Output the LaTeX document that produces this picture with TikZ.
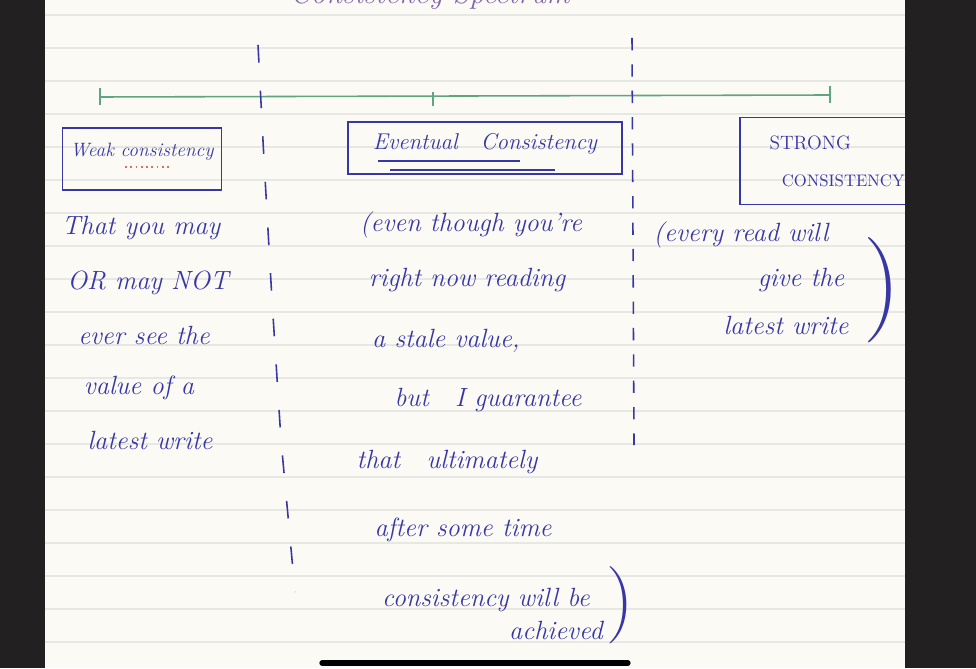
\documentclass[tikz,border=0pt]{standalone}
\usepackage{tikz}
\usetikzlibrary{positioning, calc}

\definecolor{ink}{RGB}{55,55,165}
\definecolor{paper}{RGB}{251,250,245}
\definecolor{ruling}{RGB}{231,231,228}
\definecolor{axisgreen}{RGB}{95,165,125}
\definecolor{frame}{RGB}{34,32,32}
\definecolor{titleink}{RGB}{130,100,170}
\definecolor{redink}{RGB}{225,110,90}

\begin{document}
\begin{tikzpicture}[x=0.2mm, y=-0.2mm,
  note/.style={text=ink, font=\fontsize{15}{18}\selectfont\itshape, inner sep=0pt},
  heading/.style={draw=ink, line width=0.9pt, text=ink, align=center, inner sep=0pt},
  paren/.style={text=ink, font=\fontsize{44}{44}\selectfont, inner sep=0pt},
  divider/.style={ink, line width=0.9pt}
]
  % Screen and page
  \fill[frame] (0,0) rectangle (976,668);
  \useasboundingbox (0,0) rectangle (976,668);
  \fill[paper] (45,0) rectangle (905,668);
  \foreach \y in {15,48,...,642}
    \draw[ruling, line width=0.6pt] (45,\y) -- (905,\y);

  % Title (cut off at the top)
  \node[text=titleink, font=\fontsize{17}{20}\selectfont\itshape, anchor=base] (title) at (430,4) {Consistency Spectrum};

  % Spectrum axis
  \coordinate (axL) at (100,97);
  \coordinate (axM) at (433,97);
  \coordinate (axR) at (830,95);
  \draw[axisgreen, line width=0.9pt] (axL) -- (axR);
  \draw[axisgreen, line width=0.9pt] ($(axL)+(0,-9)$) -- ($(axL)+(0,8)$);
  \draw[axisgreen, line width=0.9pt] ($(axM)+(0,-5)$) -- ($(axM)+(0,9)$);
  \draw[axisgreen, line width=0.9pt] ($(axR)+(0,-9)$) -- ($(axR)+(0,8)$);

  % Dividers
  \coordinate (d1a) at (258,45);
  \coordinate (d1b) at (264,160);
  \coordinate (d1c) at (272,300);
  \coordinate (d1d) at (281,440);
  \coordinate (d1e) at (295,592);
  \draw[divider, dash pattern=on 10pt off 16pt] (d1a) -- (d1b) -- (d1c) -- (d1d) -- (d1e);
  \coordinate (d2a) at (632,38);
  \coordinate (d2b) at (634,445);
  \draw[divider, dash pattern=on 7pt off 8pt] (d2a) -- (d2b);

  % Headings
  \node[heading, minimum width=3.18cm, minimum height=1.24cm, font=\fontsize{11}{13}\selectfont\itshape] (weak) at (142,159) {\raisebox{10pt}{Weak consistency}};
  \draw[redink, line width=1pt, dotted] (125,167) -- (172,167);
  \node[heading, minimum width=5.48cm, minimum height=1.04cm, font=\fontsize{13}{15}\selectfont\itshape] (eventual) at (485,148) {\raisebox{7pt}{Eventual\quad Consistency}};
  \draw[ink, line width=0.8pt] (378,161) -- (520,161);
  \draw[ink, line width=1.6pt] (390,170) -- (555,170);
  \node[heading, minimum width=3.6cm, minimum height=1.74cm, font=\fontsize{11}{14}\selectfont, align=left] (strong) at (830,161) {\hspace*{8pt}STRONG\\[7pt]\hspace*{15pt}{\fontsize{9.5}{12}\selectfont CONSISTENCY}};

  % Weak consistency notes
  \node[note] (w1) at (141,228) {That you may};
  \node[note] (w2) at (148,283) {OR may NOT};
  \node[note] (w3) at (144,335) {ever see the};
  \node[note] (w4) at (139,388) {value of a};
  \node[note] (w5) at (150,440) {latest write};

  % Eventual consistency notes
  \node[note] (e1) at (471,225) {(even though you're};
  \node[note] (e2) at (467,280) {right now reading};
  \node[note] (e3) at (446,341) {a stale value,};
  \node[note] (e4) at (488,400) {but\quad I guarantee};
  \node[note] (e5) at (447,462) {that\quad ultimately};
  \node[note] (e6) at (463,530) {after some time};
  \node[note] (e7) at (486,600) {consistency will be};
  \node[note] (e8) at (556,630) {achieved};
  \node[paren] (e9) at (620,605) {)};

  % Strong consistency notes
  \node[note] (s1) at (741,235) {(every read will};
  \node[note] (s2) at (801,280) {give the};
  \node[note] (s3) at (786,325) {latest write};
  \node[paren, font=\fontsize{60}{60}\selectfont] (s4) at (882,290) {)};

  % Right screen edge and bottom bar
  \fill[frame] (905,0) rectangle (976,668);
  \coordinate (barL) at (322,663);
  \coordinate (barR) at (628,663);
  \draw[black, line width=3pt, line cap=round] (barL) -- (barR);
\end{tikzpicture}
\end{document}
